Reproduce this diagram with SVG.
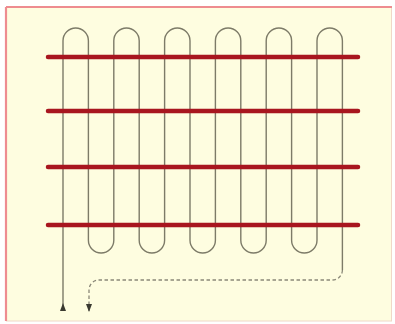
<svg xmlns="http://www.w3.org/2000/svg" width="395" height="324" viewBox="0 0 395 324">
<defs>
<style>
.wire{fill:none;stroke:#7d7b68;stroke-width:1.4}
.dash{fill:none;stroke:#8a8878;stroke-width:1.3;stroke-dasharray:3.5 2.5}
.bar{stroke:#a8161f;stroke-width:4.5;stroke-linecap:round}
</style>
<marker id="aStart" markerWidth="8" markerHeight="6" refX="0" refY="3" orient="auto" markerUnits="userSpaceOnUse"><path d="M0,0 L8,3 L0,6 z" fill="#3a3a30"/></marker>
<marker id="aEnd" markerWidth="8" markerHeight="6" refX="8" refY="3" orient="auto" markerUnits="userSpaceOnUse"><path d="M0,0 L8,3 L0,6 z" fill="#3a3a30"/></marker>
</defs>
<rect x="0" y="0" width="395" height="324" fill="#ffffff"/>
<rect x="6.5" y="7.5" width="385" height="313.5" fill="#fefde0" stroke="#f0d8c8" stroke-width="1"/>
<line x1="6" y1="7" x2="392" y2="7" stroke="#ee8c90" stroke-width="2"/>
<line x1="6" y1="7" x2="6" y2="321" stroke="#ee8c90" stroke-width="2.2"/>
<g id="connectors">
<path id="serpentine" class="wire" marker-start="url(#aStart)" d="M63,311 V40.7 A12.7,12.7 0 0 1 88.4,40.7 V240.3 A12.7,12.7 0 0 0 113.8,240.3 V40.7 A12.7,12.7 0 0 1 139.2,40.7 V240.3 A12.7,12.7 0 0 0 164.6,240.3 V40.7 A12.7,12.7 0 0 1 190,40.7 V240.3 A12.7,12.7 0 0 0 215.4,240.3 V40.7 A12.7,12.7 0 0 1 240.8,40.7 V240.3 A12.7,12.7 0 0 0 266.2,240.3 V40.7 A12.7,12.7 0 0 1 291.6,40.7 V240.3 A12.7,12.7 0 0 0 317,240.3 V40.7 A12.7,12.7 0 0 1 342.4,40.7 V270"/>
<path id="return" class="dash" marker-end="url(#aEnd)" d="M342.4,270 A10,10 0 0 1 332.4,280 H99 A10,10 0 0 0 89,290 V312"/>
</g>
<g id="bars">
<line class="bar" x1="48" y1="57" x2="358" y2="57"/>
<line class="bar" x1="48" y1="111" x2="358" y2="111"/>
<line class="bar" x1="48" y1="167" x2="358" y2="167"/>
<line class="bar" x1="48" y1="225" x2="358" y2="225"/>
</g>
</svg>
